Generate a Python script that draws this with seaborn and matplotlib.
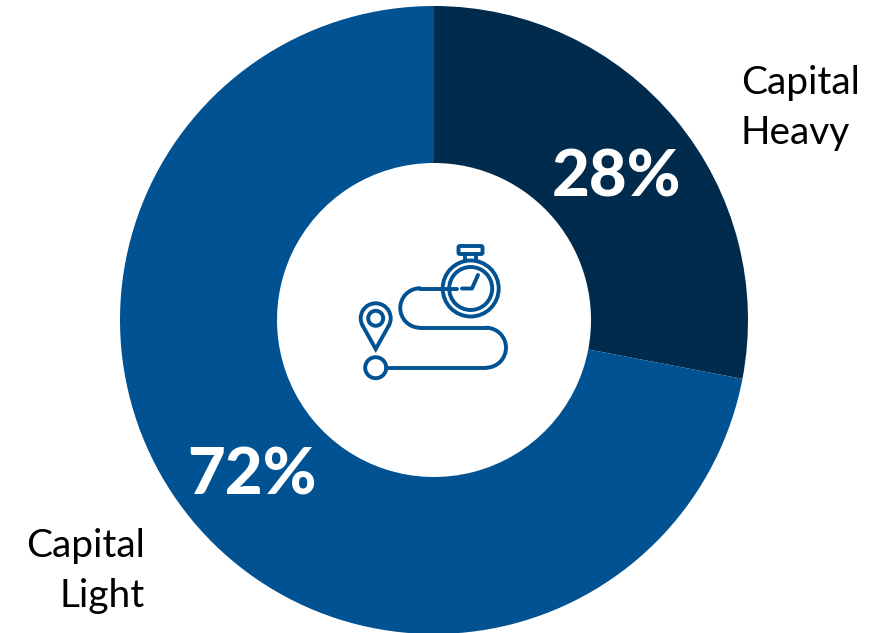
import matplotlib
matplotlib.use("Agg")
import matplotlib.pyplot as plt
import numpy as np
import seaborn as sns
from matplotlib.patches import Arc, Circle, FancyBboxPatch

categories = ["Capital Heavy", "Capital Light"]
shares = [28, 72]
segment_colors = ["#012B4D", "#005292"]
side_labels = ["Capital\nHeavy", "Capital\nLight"]
percent_labels = ["28%", "72%"]

WIDTH, HEIGHT = 884, 633
sns.set_theme(style="white")
plt.rcParams["font.family"] = ["Lato", "DejaVu Sans"]

fig = plt.figure(figsize=(WIDTH / 100, HEIGHT / 100), dpi=100, facecolor="white")

# Donut: the axes square is placed so the ring fills the canvas height
cx, cy, radius = 434, 320, 314
ax = fig.add_axes([(cx - radius) / WIDTH, 1 - (cy + radius) / HEIGHT,
                   2 * radius / WIDTH, 2 * radius / HEIGHT])
ax.pie(shares, colors=segment_colors, startangle=90, counterclock=False, radius=1,
       wedgeprops={"width": 0.5, "linewidth": 0})
ax.set_xlim(-1, 1)
ax.set_ylim(-1, 1)
ax.set_clip_on(False)

# Overlay in canvas pixels for the labels and the route icon
ov = fig.add_axes([0, 0, 1, 1])
ov.set_xlim(0, WIDTH)
ov.set_ylim(HEIGHT, 0)
ov.axis("off")
ov.patch.set_alpha(0)

ov.text(617, 178, percent_labels[0], color="white", fontsize=47, fontweight=900,
        ha="center", va="center")
ov.text(252, 476, percent_labels[1], color="white", fontsize=47, fontweight=900,
        ha="center", va="center")
ov.text(741, 108, side_labels[0], color="black", fontsize=28, ha="left", va="center",
        linespacing=1.47)
ov.text(145, 571, side_labels[1], color="black", fontsize=28, ha="right", va="center",
        linespacing=1.47)

icon = segment_colors[1]
lw = 2.8
line_kw = dict(color=icon, lw=lw, solid_capstyle="round")
arc_kw = dict(color=icon, lw=lw, capstyle="round")

# Winding route from the stopwatch down to the start marker
ov.plot([456.5, 420], [288.5, 288.5], **line_kw)
ov.add_patch(Arc((420, 308), 39.5, 39.5, theta1=90, theta2=270, **arc_kw))
ov.plot([420, 486.5], [327.7, 327.7], **line_kw)
ov.add_patch(Arc((486, 347.7), 40, 40, theta1=270, theta2=90, **arc_kw))
ov.plot([486, 386], [367.7, 367.7], **line_kw)
ov.add_patch(Circle((375.7, 367.7), 10.5, fill=False, ec=icon, lw=lw))

# Location pin
pin_c = (375.7, 318.3)
pin_r = 15
ov.add_patch(Arc(pin_c, 2 * pin_r, 2 * pin_r, theta1=150, theta2=30, **arc_kw))
ang = np.deg2rad(30)
ov.plot([pin_c[0] - pin_r * np.cos(ang), 375.7, pin_c[0] + pin_r * np.cos(ang)],
        [pin_c[1] + pin_r * np.sin(ang), 349, pin_c[1] + pin_r * np.sin(ang)],
        color=icon, lw=lw, solid_joinstyle="miter")
ov.add_patch(Circle(pin_c, 7.5, fill=False, ec=icon, lw=lw))

# Stopwatch
sw = (470.7, 288.5)
ov.add_patch(Circle(sw, 28, fill=False, ec=icon, lw=lw))
ov.add_patch(Circle(sw, 21.5, fill=False, ec=icon, lw=lw))
ov.add_patch(FancyBboxPatch((460, 247.5), 21, 5, boxstyle="round,pad=1.5",
                            fill=False, ec=icon, lw=lw))
ov.plot([465, 465], [254, 261], **line_kw)
ov.plot([476, 476], [254, 261], **line_kw)
ov.plot([462, 472, 478], [288.5, 288.5, 275], color=icon, lw=lw,
        solid_capstyle="round", solid_joinstyle="round")

fig.savefig("out.png", dpi=100, facecolor="white")
